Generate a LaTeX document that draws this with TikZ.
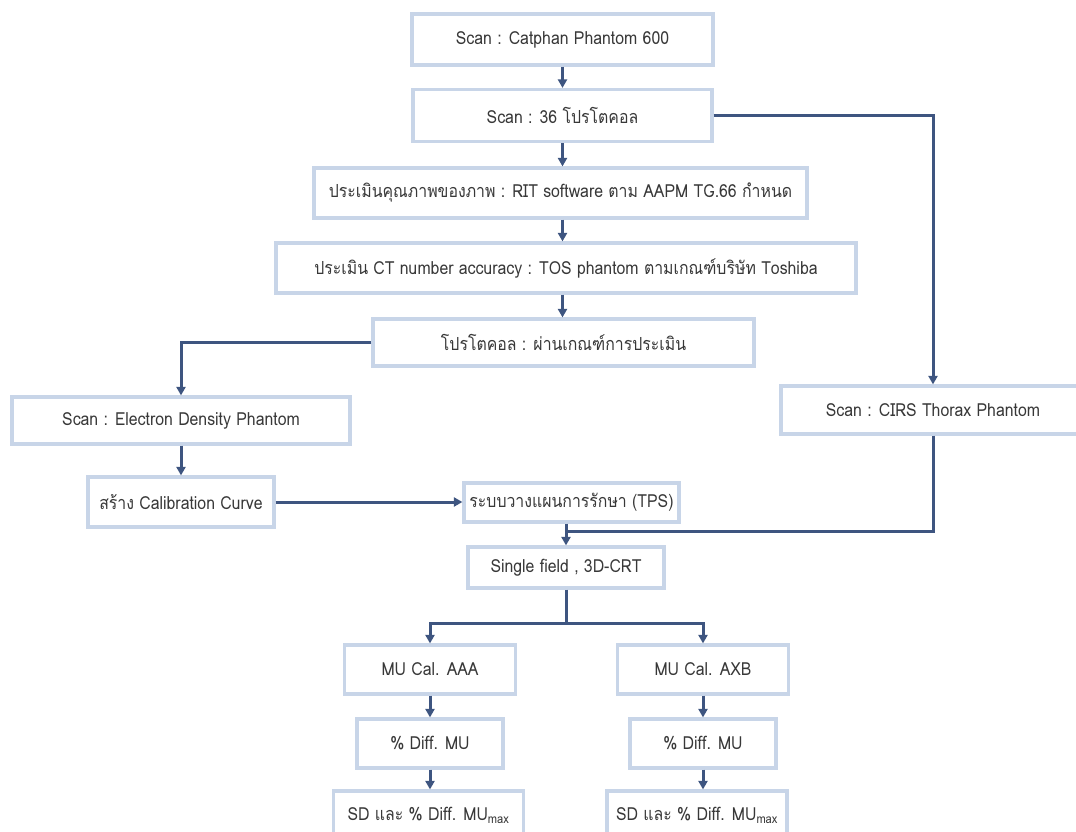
\documentclass[tikz,border=0pt]{standalone}
\usepackage{fontspec}
\setmainfont[Script=Thai, FakeStretch=0.88]{Loma}
\usetikzlibrary{arrows.meta}

\definecolor{boxline}{HTML}{C8D5E8}
\definecolor{flowline}{HTML}{3E5580}
\definecolor{textgray}{HTML}{383838}

\begin{document}
\begin{tikzpicture}[x=1pt, y=-1pt,
    box/.style={draw=boxline, line width=3.2pt, fill=white, text=textgray,
      inner sep=0pt, font=\fontsize{18}{21}\selectfont},
    link/.style={draw=flowline, line width=3pt},
    flow/.style={link, ->, >={Triangle[length=8.5pt,width=9pt]}}]
    \useasboundingbox (0,0) rectangle (1076,832);
    % upper column
    \node[box, minimum width=301, minimum height=51] (catphan) at (562.5,39.5) {Scan : Catphan Phantom 600};
    \node[box, minimum width=299, minimum height=52] (protocol) at (562.5,115.5) {Scan : 36 โปรโตคอล};
    \node[box, minimum width=493, minimum height=50] (quality) at (560.5,193) {ประเมินคุณภาพของภาพ : RIT software ตาม AAPM TG.66 กำหนด};
    \node[box, minimum width=580, minimum height=50] (ctnumber) at (566,268) {ประเมิน CT number accuracy : TOS phantom ตามเกณฑ์บริษัท Toshiba};
    \node[box, minimum width=381, minimum height=47] (passed) at (563.5,342.5) {โปรโตคอล : ผ่านเกณฑ์การประเมิน};
    % side branches
    \node[box, minimum width=338, minimum height=47] (density) at (181,420.5) {Scan : Electron Density Phantom};
    \node[box, minimum width=186, minimum height=50] (calib) at (181,502) {สร้าง Calibration Curve};
    \node[box, minimum width=215, minimum height=39] (tps) at (571.5,502.5) {ระบบวางแผนการรักษา (TPS)};
    \node[box, minimum width=304, minimum height=48] (thorax) at (933,410) {Scan : CIRS Thorax Phantom};
    \node[box, minimum width=196, minimum height=41] (single) at (566,567.5) {Single field , 3D-CRT};
    % two calculations
    \node[box, minimum width=171, minimum height=49] (aaa) at (430,669.5) {MU Cal. AAA};
    \node[box, minimum width=171, minimum height=49] (axb) at (703,669.5) {MU Cal. AXB};
    \node[box, minimum width=146, minimum height=49] (diffaaa) at (430,743.5) {\% Diff. MU};
    \node[box, minimum width=146, minimum height=49] (diffaxb) at (703,743.5) {\% Diff. MU};
    \node[box, minimum width=190, minimum height=49] (sdaaa) at (428.5,815.5) {SD และ \% Diff. MU\textsubscript{max}};
    \node[box, minimum width=180, minimum height=49] (sdaxb) at (697,815.5) {SD และ \% Diff. MU\textsubscript{max}};
    \coordinate (join) at (566,531);
    \coordinate (split) at (566,623);
    \draw[flow] (catphan.south -| protocol.north) -- (protocol.north);
    \draw[flow] (protocol.south) -- (protocol.south |- quality.north);
    \draw[flow] (protocol.south |- quality.south) -- (protocol.south |- ctnumber.north);
    \draw[flow] (protocol.south |- ctnumber.south) -- (protocol.south |- passed.north);
    \draw[flow] (protocol.east) -| (thorax.north);
    \draw[flow] (passed.west) -| (density.north);
    \draw[flow] (density) -- (calib);
    \draw[flow] (calib.east) -- (calib.east -| tps.west);
    \draw[link] (thorax.south) |- (join);
    \draw[flow] (tps.south -| join) -- (single.north);
    \draw[link] (single.south) -- (split);
    \draw[flow] (split) -| (aaa.north);
    \draw[flow] (split) -| (axb.north);
    \draw[flow] (aaa) -- (diffaaa);
    \draw[flow] (axb) -- (diffaxb);
    \draw[flow] (diffaaa.south) -- (diffaaa.south |- sdaaa.north);
    \draw[flow] (diffaxb.south) -- (diffaxb.south |- sdaxb.north);
\end{tikzpicture}
\end{document}
